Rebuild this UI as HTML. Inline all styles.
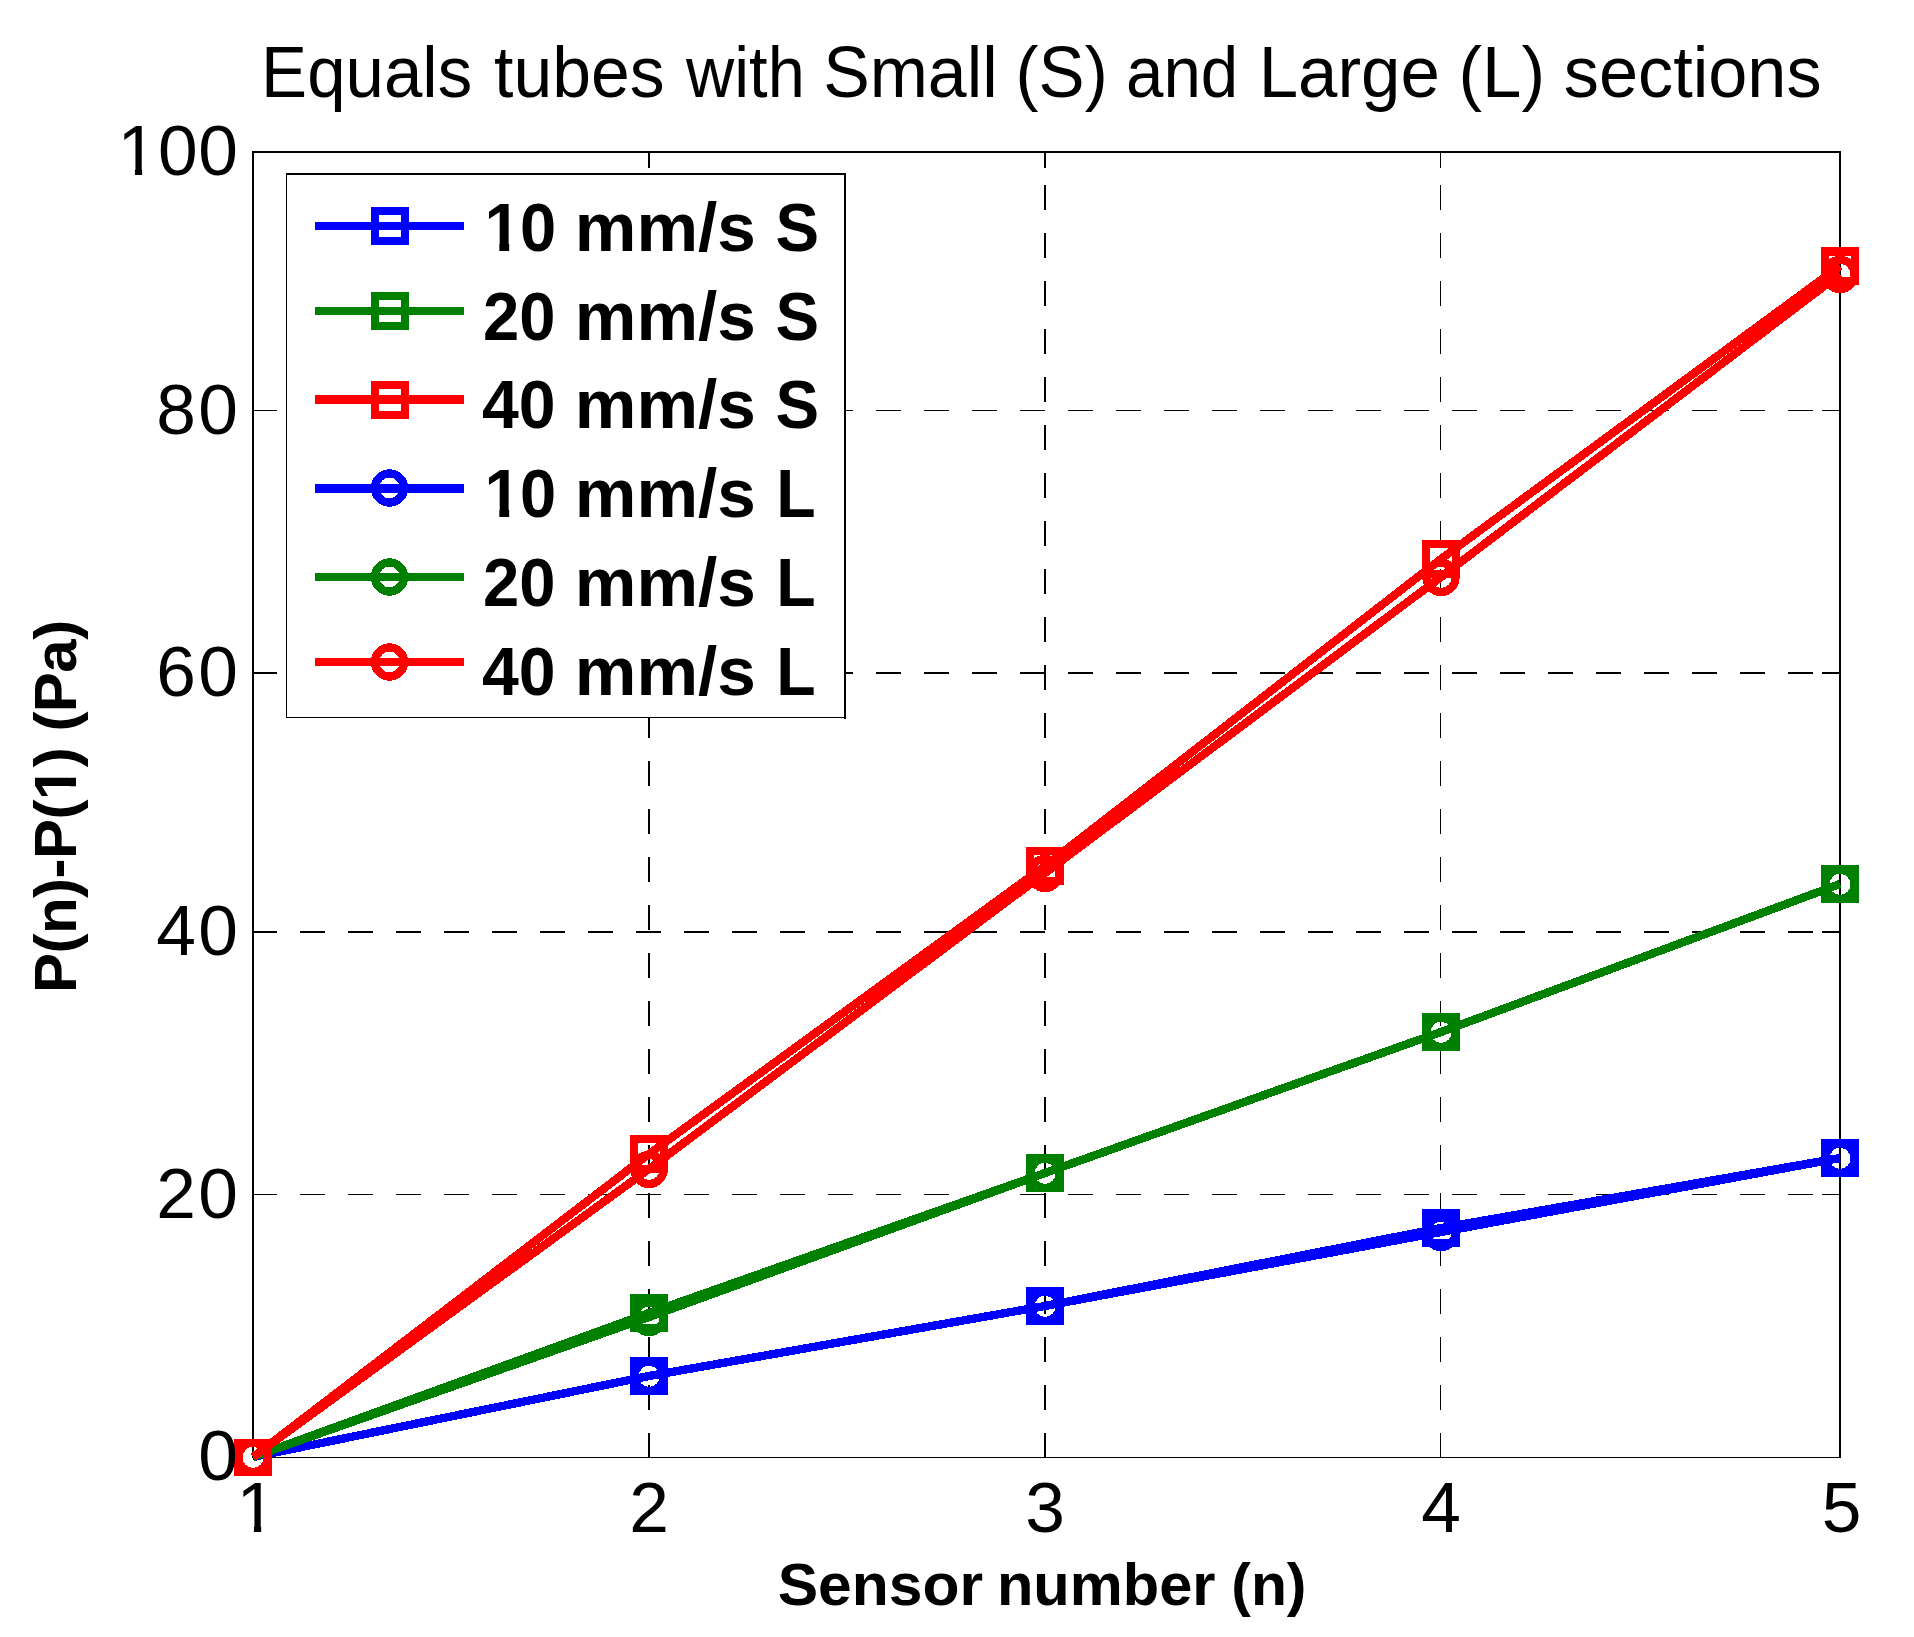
<!DOCTYPE html>
<html lang="en"><head><meta charset="utf-8"><title>Equals tubes with Small (S) and Large (L) sections</title>
<style>html,body{margin:0;padding:0;background:#fff}body{width:1914px;height:1637px;overflow:hidden}svg{display:block}
text{font-family:"Liberation Sans",Arial,Helvetica,sans-serif;fill:#000}.b{font-weight:bold}</style></head><body>
<svg width="1914" height="1637" viewBox="0 0 1914 1637">
<rect width="1914" height="1637" fill="#fff"/>
<g shape-rendering="crispEdges">
<g fill="#000">
<rect x="648" y="1433" width="2" height="25"/>
<rect x="648" y="1385" width="2" height="25"/>
<rect x="648" y="1337" width="2" height="25"/>
<rect x="648" y="1289" width="2" height="25"/>
<rect x="648" y="1241" width="2" height="25"/>
<rect x="648" y="1193" width="2" height="25"/>
<rect x="648" y="1145" width="2" height="25"/>
<rect x="648" y="1097" width="2" height="25"/>
<rect x="648" y="1049" width="2" height="25"/>
<rect x="648" y="1001" width="2" height="25"/>
<rect x="648" y="953" width="2" height="25"/>
<rect x="648" y="905" width="2" height="25"/>
<rect x="648" y="857" width="2" height="25"/>
<rect x="648" y="809" width="2" height="25"/>
<rect x="648" y="761" width="2" height="25"/>
<rect x="648" y="713" width="2" height="25"/>
<rect x="648" y="665" width="2" height="25"/>
<rect x="648" y="617" width="2" height="25"/>
<rect x="648" y="569" width="2" height="25"/>
<rect x="648" y="521" width="2" height="25"/>
<rect x="648" y="473" width="2" height="25"/>
<rect x="648" y="425" width="2" height="25"/>
<rect x="648" y="377" width="2" height="25"/>
<rect x="648" y="329" width="2" height="25"/>
<rect x="648" y="281" width="2" height="25"/>
<rect x="648" y="233" width="2" height="25"/>
<rect x="648" y="185" width="2" height="25"/>
<rect x="648" y="152" width="2" height="10"/>
<rect x="1044" y="1433" width="2" height="25"/>
<rect x="1044" y="1385" width="2" height="25"/>
<rect x="1044" y="1337" width="2" height="25"/>
<rect x="1044" y="1289" width="2" height="25"/>
<rect x="1044" y="1241" width="2" height="25"/>
<rect x="1044" y="1193" width="2" height="25"/>
<rect x="1044" y="1145" width="2" height="25"/>
<rect x="1044" y="1097" width="2" height="25"/>
<rect x="1044" y="1049" width="2" height="25"/>
<rect x="1044" y="1001" width="2" height="25"/>
<rect x="1044" y="953" width="2" height="25"/>
<rect x="1044" y="905" width="2" height="25"/>
<rect x="1044" y="857" width="2" height="25"/>
<rect x="1044" y="809" width="2" height="25"/>
<rect x="1044" y="761" width="2" height="25"/>
<rect x="1044" y="713" width="2" height="25"/>
<rect x="1044" y="665" width="2" height="25"/>
<rect x="1044" y="617" width="2" height="25"/>
<rect x="1044" y="569" width="2" height="25"/>
<rect x="1044" y="521" width="2" height="25"/>
<rect x="1044" y="473" width="2" height="25"/>
<rect x="1044" y="425" width="2" height="25"/>
<rect x="1044" y="377" width="2" height="25"/>
<rect x="1044" y="329" width="2" height="25"/>
<rect x="1044" y="281" width="2" height="25"/>
<rect x="1044" y="233" width="2" height="25"/>
<rect x="1044" y="185" width="2" height="25"/>
<rect x="1044" y="152" width="2" height="10"/>
<rect x="1440" y="1433" width="1" height="25"/>
<rect x="1440" y="1385" width="1" height="25"/>
<rect x="1440" y="1337" width="1" height="25"/>
<rect x="1440" y="1289" width="1" height="25"/>
<rect x="1440" y="1241" width="1" height="25"/>
<rect x="1440" y="1193" width="1" height="25"/>
<rect x="1440" y="1145" width="1" height="25"/>
<rect x="1440" y="1097" width="1" height="25"/>
<rect x="1440" y="1049" width="1" height="25"/>
<rect x="1440" y="1001" width="1" height="25"/>
<rect x="1440" y="953" width="1" height="25"/>
<rect x="1440" y="905" width="1" height="25"/>
<rect x="1440" y="857" width="1" height="25"/>
<rect x="1440" y="809" width="1" height="25"/>
<rect x="1440" y="761" width="1" height="25"/>
<rect x="1440" y="713" width="1" height="25"/>
<rect x="1440" y="665" width="1" height="25"/>
<rect x="1440" y="617" width="1" height="25"/>
<rect x="1440" y="569" width="1" height="25"/>
<rect x="1440" y="521" width="1" height="25"/>
<rect x="1440" y="473" width="1" height="25"/>
<rect x="1440" y="425" width="1" height="25"/>
<rect x="1440" y="377" width="1" height="25"/>
<rect x="1440" y="329" width="1" height="25"/>
<rect x="1440" y="281" width="1" height="25"/>
<rect x="1440" y="233" width="1" height="25"/>
<rect x="1440" y="185" width="1" height="25"/>
<rect x="1440" y="152" width="1" height="10"/>
<rect x="252" y="1194" width="25" height="1"/>
<rect x="300" y="1194" width="25" height="1"/>
<rect x="348" y="1194" width="25" height="1"/>
<rect x="396" y="1194" width="25" height="1"/>
<rect x="444" y="1194" width="25" height="1"/>
<rect x="492" y="1194" width="25" height="1"/>
<rect x="540" y="1194" width="25" height="1"/>
<rect x="588" y="1194" width="25" height="1"/>
<rect x="636" y="1194" width="25" height="1"/>
<rect x="684" y="1194" width="25" height="1"/>
<rect x="732" y="1194" width="25" height="1"/>
<rect x="780" y="1194" width="25" height="1"/>
<rect x="828" y="1194" width="25" height="1"/>
<rect x="876" y="1194" width="25" height="1"/>
<rect x="924" y="1194" width="25" height="1"/>
<rect x="972" y="1194" width="25" height="1"/>
<rect x="1020" y="1194" width="25" height="1"/>
<rect x="1068" y="1194" width="25" height="1"/>
<rect x="1116" y="1194" width="25" height="1"/>
<rect x="1164" y="1194" width="25" height="1"/>
<rect x="1212" y="1194" width="25" height="1"/>
<rect x="1260" y="1194" width="25" height="1"/>
<rect x="1308" y="1194" width="25" height="1"/>
<rect x="1356" y="1194" width="25" height="1"/>
<rect x="1404" y="1194" width="25" height="1"/>
<rect x="1452" y="1194" width="25" height="1"/>
<rect x="1500" y="1194" width="25" height="1"/>
<rect x="1548" y="1194" width="25" height="1"/>
<rect x="1596" y="1194" width="25" height="1"/>
<rect x="1644" y="1194" width="25" height="1"/>
<rect x="1692" y="1194" width="25" height="1"/>
<rect x="1740" y="1194" width="25" height="1"/>
<rect x="1788" y="1194" width="25" height="1"/>
<rect x="1836" y="1194" width="3" height="1"/>
<rect x="252" y="931" width="25" height="2"/>
<rect x="300" y="931" width="25" height="2"/>
<rect x="348" y="931" width="25" height="2"/>
<rect x="396" y="931" width="25" height="2"/>
<rect x="444" y="931" width="25" height="2"/>
<rect x="492" y="931" width="25" height="2"/>
<rect x="540" y="931" width="25" height="2"/>
<rect x="588" y="931" width="25" height="2"/>
<rect x="636" y="931" width="25" height="2"/>
<rect x="684" y="931" width="25" height="2"/>
<rect x="732" y="931" width="25" height="2"/>
<rect x="780" y="931" width="25" height="2"/>
<rect x="828" y="931" width="25" height="2"/>
<rect x="876" y="931" width="25" height="2"/>
<rect x="924" y="931" width="25" height="2"/>
<rect x="972" y="931" width="25" height="2"/>
<rect x="1020" y="931" width="25" height="2"/>
<rect x="1068" y="931" width="25" height="2"/>
<rect x="1116" y="931" width="25" height="2"/>
<rect x="1164" y="931" width="25" height="2"/>
<rect x="1212" y="931" width="25" height="2"/>
<rect x="1260" y="931" width="25" height="2"/>
<rect x="1308" y="931" width="25" height="2"/>
<rect x="1356" y="931" width="25" height="2"/>
<rect x="1404" y="931" width="25" height="2"/>
<rect x="1452" y="931" width="25" height="2"/>
<rect x="1500" y="931" width="25" height="2"/>
<rect x="1548" y="931" width="25" height="2"/>
<rect x="1596" y="931" width="25" height="2"/>
<rect x="1644" y="931" width="25" height="2"/>
<rect x="1692" y="931" width="25" height="2"/>
<rect x="1740" y="931" width="25" height="2"/>
<rect x="1788" y="931" width="25" height="2"/>
<rect x="1836" y="931" width="3" height="2"/>
<rect x="252" y="672" width="25" height="2"/>
<rect x="300" y="672" width="25" height="2"/>
<rect x="348" y="672" width="25" height="2"/>
<rect x="396" y="672" width="25" height="2"/>
<rect x="444" y="672" width="25" height="2"/>
<rect x="492" y="672" width="25" height="2"/>
<rect x="540" y="672" width="25" height="2"/>
<rect x="588" y="672" width="25" height="2"/>
<rect x="636" y="672" width="25" height="2"/>
<rect x="684" y="672" width="25" height="2"/>
<rect x="732" y="672" width="25" height="2"/>
<rect x="780" y="672" width="25" height="2"/>
<rect x="828" y="672" width="25" height="2"/>
<rect x="876" y="672" width="25" height="2"/>
<rect x="924" y="672" width="25" height="2"/>
<rect x="972" y="672" width="25" height="2"/>
<rect x="1020" y="672" width="25" height="2"/>
<rect x="1068" y="672" width="25" height="2"/>
<rect x="1116" y="672" width="25" height="2"/>
<rect x="1164" y="672" width="25" height="2"/>
<rect x="1212" y="672" width="25" height="2"/>
<rect x="1260" y="672" width="25" height="2"/>
<rect x="1308" y="672" width="25" height="2"/>
<rect x="1356" y="672" width="25" height="2"/>
<rect x="1404" y="672" width="25" height="2"/>
<rect x="1452" y="672" width="25" height="2"/>
<rect x="1500" y="672" width="25" height="2"/>
<rect x="1548" y="672" width="25" height="2"/>
<rect x="1596" y="672" width="25" height="2"/>
<rect x="1644" y="672" width="25" height="2"/>
<rect x="1692" y="672" width="25" height="2"/>
<rect x="1740" y="672" width="25" height="2"/>
<rect x="1788" y="672" width="25" height="2"/>
<rect x="1836" y="672" width="3" height="2"/>
<rect x="252" y="410" width="25" height="1"/>
<rect x="300" y="410" width="25" height="1"/>
<rect x="348" y="410" width="25" height="1"/>
<rect x="396" y="410" width="25" height="1"/>
<rect x="444" y="410" width="25" height="1"/>
<rect x="492" y="410" width="25" height="1"/>
<rect x="540" y="410" width="25" height="1"/>
<rect x="588" y="410" width="25" height="1"/>
<rect x="636" y="410" width="25" height="1"/>
<rect x="684" y="410" width="25" height="1"/>
<rect x="732" y="410" width="25" height="1"/>
<rect x="780" y="410" width="25" height="1"/>
<rect x="828" y="410" width="25" height="1"/>
<rect x="876" y="410" width="25" height="1"/>
<rect x="924" y="410" width="25" height="1"/>
<rect x="972" y="410" width="25" height="1"/>
<rect x="1020" y="410" width="25" height="1"/>
<rect x="1068" y="410" width="25" height="1"/>
<rect x="1116" y="410" width="25" height="1"/>
<rect x="1164" y="410" width="25" height="1"/>
<rect x="1212" y="410" width="25" height="1"/>
<rect x="1260" y="410" width="25" height="1"/>
<rect x="1308" y="410" width="25" height="1"/>
<rect x="1356" y="410" width="25" height="1"/>
<rect x="1404" y="410" width="25" height="1"/>
<rect x="1452" y="410" width="25" height="1"/>
<rect x="1500" y="410" width="25" height="1"/>
<rect x="1548" y="410" width="25" height="1"/>
<rect x="1596" y="410" width="25" height="1"/>
<rect x="1644" y="410" width="25" height="1"/>
<rect x="1692" y="410" width="25" height="1"/>
<rect x="1740" y="410" width="25" height="1"/>
<rect x="1788" y="410" width="25" height="1"/>
<rect x="1836" y="410" width="3" height="1"/>
</g>
<g fill="#000">
<rect x="252" y="151" width="1589" height="2"/>
<rect x="252" y="1457" width="1589" height="1"/>
<rect x="252" y="151" width="2" height="1307"/>
<rect x="1839" y="151" width="2" height="1307"/>
<rect x="648" y="152" width="2" height="16"/>
<rect x="648" y="1441" width="2" height="16"/>
<rect x="1044" y="152" width="2" height="16"/>
<rect x="1044" y="1441" width="2" height="16"/>
<rect x="1440" y="152" width="1" height="16"/>
<rect x="1440" y="1441" width="1" height="16"/>
<rect x="253" y="1194" width="17" height="1"/>
<rect x="1822" y="1194" width="17" height="1"/>
<rect x="253" y="931" width="17" height="2"/>
<rect x="1822" y="931" width="17" height="2"/>
<rect x="253" y="672" width="17" height="2"/>
<rect x="1822" y="672" width="17" height="2"/>
<rect x="253" y="410" width="17" height="1"/>
<rect x="1822" y="410" width="17" height="1"/>
</g>
<polyline points="253,1457 649,1376 1045,1306 1441,1228 1840,1158" fill="none" stroke="#0000ff" stroke-width="8.33" stroke-linejoin="round"/>
<polyline points="253,1457 649,1313 1045,1173 1441,1032 1840,884" fill="none" stroke="#008000" stroke-width="8.33" stroke-linejoin="round"/>
<polyline points="253,1457 649,1154 1045,866 1441,559 1840,266" fill="none" stroke="#ff0000" stroke-width="8.33" stroke-linejoin="round"/>
<polyline points="253,1457 649,1376 1045,1306 1441,1232 1840,1158" fill="none" stroke="#0000ff" stroke-width="8.33" stroke-linejoin="round"/>
<polyline points="253,1457 649,1317 1045,1173 1441,1032 1840,884" fill="none" stroke="#008000" stroke-width="8.33" stroke-linejoin="round"/>
<polyline points="253,1457 649,1169 1045,873 1441,577 1840,274" fill="none" stroke="#ff0000" stroke-width="8.33" stroke-linejoin="round"/>
<rect x="238" y="1443" width="30" height="29" fill="none" stroke="#0000ff" stroke-width="8"/>
<rect x="634" y="1361" width="30" height="30" fill="none" stroke="#0000ff" stroke-width="8"/>
<rect x="1030" y="1291" width="30" height="30" fill="none" stroke="#0000ff" stroke-width="8"/>
<rect x="1426" y="1213" width="30" height="30" fill="none" stroke="#0000ff" stroke-width="8"/>
<rect x="1825" y="1143" width="30" height="30" fill="none" stroke="#0000ff" stroke-width="8"/>
<rect x="238" y="1443" width="30" height="29" fill="none" stroke="#008000" stroke-width="8"/>
<rect x="634" y="1298" width="30" height="30" fill="none" stroke="#008000" stroke-width="8"/>
<rect x="1030" y="1158" width="30" height="30" fill="none" stroke="#008000" stroke-width="8"/>
<rect x="1426" y="1017" width="30" height="30" fill="none" stroke="#008000" stroke-width="8"/>
<rect x="1825" y="869" width="30" height="30" fill="none" stroke="#008000" stroke-width="8"/>
<rect x="238" y="1443" width="30" height="29" fill="none" stroke="#ff0000" stroke-width="8"/>
<rect x="634" y="1139" width="30" height="30" fill="none" stroke="#ff0000" stroke-width="8"/>
<rect x="1030" y="851" width="30" height="30" fill="none" stroke="#ff0000" stroke-width="8"/>
<rect x="1426" y="544" width="30" height="30" fill="none" stroke="#ff0000" stroke-width="8"/>
<rect x="1825" y="251" width="30" height="30" fill="none" stroke="#ff0000" stroke-width="8"/>
<circle cx="253" cy="1457.4" r="14.6" fill="none" stroke="#0000ff" stroke-width="8.2"/>
<circle cx="649" cy="1376.4" r="14.6" fill="none" stroke="#0000ff" stroke-width="8.2"/>
<circle cx="1045" cy="1306.4" r="14.6" fill="none" stroke="#0000ff" stroke-width="8.2"/>
<circle cx="1441" cy="1232.4" r="14.6" fill="none" stroke="#0000ff" stroke-width="8.2"/>
<circle cx="1840" cy="1158.4" r="14.6" fill="none" stroke="#0000ff" stroke-width="8.2"/>
<circle cx="253" cy="1457.4" r="14.6" fill="none" stroke="#008000" stroke-width="8.2"/>
<circle cx="649" cy="1317.4" r="14.6" fill="none" stroke="#008000" stroke-width="8.2"/>
<circle cx="1045" cy="1173.4" r="14.6" fill="none" stroke="#008000" stroke-width="8.2"/>
<circle cx="1441" cy="1032.4" r="14.6" fill="none" stroke="#008000" stroke-width="8.2"/>
<circle cx="1840" cy="884.4" r="14.6" fill="none" stroke="#008000" stroke-width="8.2"/>
<circle cx="253" cy="1457.4" r="14.6" fill="none" stroke="#ff0000" stroke-width="8.2"/>
<circle cx="649" cy="1169.4" r="14.6" fill="none" stroke="#ff0000" stroke-width="8.2"/>
<circle cx="1045" cy="873.4" r="14.6" fill="none" stroke="#ff0000" stroke-width="8.2"/>
<circle cx="1441" cy="577.4" r="14.6" fill="none" stroke="#ff0000" stroke-width="8.2"/>
<circle cx="1840" cy="274.4" r="14.6" fill="none" stroke="#ff0000" stroke-width="8.2"/>
<rect x="1829" y="255" width="22" height="1" fill="#ff0000"/>
<rect x="286" y="173" width="560" height="545" fill="#fff"/>
<g fill="#000"><rect x="286" y="173" width="560" height="2"/><rect x="286" y="717" width="560" height="1"/><rect x="286" y="173" width="1" height="545"/><rect x="844" y="173" width="2" height="546"/></g>
<rect x="315" y="222" width="149" height="8" fill="#0000ff"/>
<rect x="375" y="211" width="30" height="30" fill="none" stroke="#0000ff" stroke-width="8"/>
<rect x="315" y="307" width="149" height="8" fill="#008000"/>
<rect x="375" y="296" width="30" height="30" fill="none" stroke="#008000" stroke-width="8"/>
<rect x="315" y="395" width="149" height="9" fill="#ff0000"/>
<rect x="375" y="385" width="30" height="30" fill="none" stroke="#ff0000" stroke-width="8"/>
<rect x="315" y="484" width="149" height="9" fill="#0000ff"/>
<circle cx="389.5" cy="488" r="14.5" fill="none" stroke="#0000ff" stroke-width="8.4"/>
<rect x="315" y="573" width="149" height="8" fill="#008000"/>
<circle cx="389.5" cy="577" r="14.5" fill="none" stroke="#008000" stroke-width="8.4"/>
<rect x="315" y="658" width="149" height="8" fill="#ff0000"/>
<circle cx="389.5" cy="662" r="14.5" fill="none" stroke="#ff0000" stroke-width="8.4"/>
</g>
<text id="title" y="97" font-size="71.4"><tspan x="261.1" textLength="211.1" lengthAdjust="spacingAndGlyphs">Equals</tspan> <tspan x="494.1" textLength="170.6" lengthAdjust="spacingAndGlyphs">tubes</tspan> <tspan x="686.1" textLength="118.7" lengthAdjust="spacingAndGlyphs">with</tspan> <tspan x="823.2" textLength="174.5" lengthAdjust="spacingAndGlyphs">Small</tspan> <tspan x="1015.6" textLength="92.1" lengthAdjust="spacingAndGlyphs">(S)</tspan> <tspan x="1126.0" textLength="112.3" lengthAdjust="spacingAndGlyphs">and</tspan> <tspan x="1258.7" textLength="181.1" lengthAdjust="spacingAndGlyphs">Large</tspan> <tspan x="1458.4" textLength="86.6" lengthAdjust="spacingAndGlyphs">(L)</tspan> <tspan x="1563.8" textLength="257.8" lengthAdjust="spacingAndGlyphs">sections</tspan></text>
<text class="b" id="leg1" y="340" font-size="68.5"><tspan x="483.0" textLength="72.5" lengthAdjust="spacingAndGlyphs">20</tspan> <tspan x="574.8" textLength="181.1" lengthAdjust="spacingAndGlyphs">mm/s</tspan> <tspan x="775.4" textLength="43.6" lengthAdjust="spacingAndGlyphs">S</tspan></text>
<text class="b" id="leg2" y="428" font-size="68.5"><tspan x="481.9" textLength="73.6" lengthAdjust="spacingAndGlyphs">40</tspan> <tspan x="574.8" textLength="181.1" lengthAdjust="spacingAndGlyphs">mm/s</tspan> <tspan x="775.4" textLength="43.6" lengthAdjust="spacingAndGlyphs">S</tspan></text>
<text class="b" id="leg4" y="606" font-size="68.5"><tspan x="483.0" textLength="72.5" lengthAdjust="spacingAndGlyphs">20</tspan> <tspan x="574.8" textLength="181.1" lengthAdjust="spacingAndGlyphs">mm/s</tspan> <tspan x="776.3" textLength="39.4" lengthAdjust="spacingAndGlyphs">L</tspan></text>
<text class="b" id="leg5" y="695" font-size="68.5"><tspan x="481.9" textLength="73.6" lengthAdjust="spacingAndGlyphs">40</tspan> <tspan x="574.8" textLength="181.1" lengthAdjust="spacingAndGlyphs">mm/s</tspan> <tspan x="776.3" textLength="39.4" lengthAdjust="spacingAndGlyphs">L</tspan></text>
<text x="238" y="1479.8" font-size="71.3" text-anchor="end" letter-spacing="0">0</text>
<text x="240.4" y="1217.6" font-size="71.3" text-anchor="end" letter-spacing="2.4">20</text>
<text x="240.4" y="955.1" font-size="71.3" text-anchor="end" letter-spacing="2.4">40</text>
<text x="240.4" y="696.1" font-size="71.3" text-anchor="end" letter-spacing="2.4">60</text>
<text x="240.4" y="433.6" font-size="71.3" text-anchor="end" letter-spacing="2.4">80</text>
<text x="649" y="1532" font-size="71.3" text-anchor="middle">2</text>
<text x="1045" y="1532" font-size="71.3" text-anchor="middle">3</text>
<text x="1441" y="1532" font-size="71.3" text-anchor="middle">4</text>
<text x="1841.5" y="1532" font-size="71.3" text-anchor="middle">5</text>
<clipPath id="nofoot"><path clip-rule="evenodd" d="M0 0H1914V1637H0Z M487.20 243.00H499.34V252.00H487.20Z M509.17 243.00H520.48V252.00H509.17Z M487.20 509.00H499.34V518.00H487.20Z M509.17 509.00H520.48V518.00H509.17Z M121.37 169.00H134.92V177.00H121.37Z M142.12 169.00H155.11V177.00H142.12Z M240.40 1526.00H253.95V1533.00H240.40Z M261.15 1526.00H274.15V1533.00H261.15Z"/></clipPath>
<g clip-path="url(#nofoot)"><text class="b" id="leg0" y="251" font-size="68.5"><tspan x="484.6" textLength="36.2" lengthAdjust="spacingAndGlyphs">1</tspan><tspan x="520.1" textLength="36.2" lengthAdjust="spacingAndGlyphs">0</tspan> <tspan x="574.8" textLength="181.1" lengthAdjust="spacingAndGlyphs">mm/s</tspan> <tspan x="775.4" textLength="43.6" lengthAdjust="spacingAndGlyphs">S</tspan></text><text class="b" id="leg3" y="517" font-size="68.5"><tspan x="484.6" textLength="36.2" lengthAdjust="spacingAndGlyphs">1</tspan><tspan x="520.1" textLength="36.2" lengthAdjust="spacingAndGlyphs">0</tspan> <tspan x="574.8" textLength="181.1" lengthAdjust="spacingAndGlyphs">mm/s</tspan> <tspan x="776.3" textLength="39.4" lengthAdjust="spacingAndGlyphs">L</tspan></text><text x="238.8" y="175.1" font-size="71.3" text-anchor="end" letter-spacing="0.8">100</text><text x="256.3" y="1532" font-size="71.3" text-anchor="middle">1</text></g>
<text class="b" id="xlab" y="1605" font-size="60"><tspan x="777.7" textLength="205.4" lengthAdjust="spacingAndGlyphs">Sensor</tspan> <tspan x="996.9" textLength="218.6" lengthAdjust="spacingAndGlyphs">number</tspan> <tspan x="1231.3" textLength="75.2" lengthAdjust="spacingAndGlyphs">(n)</tspan></text>
<clipPath id="nofoot2"><path clip-rule="evenodd" d="M-400 -100H400V100H-400Z M8.6 -7H20.2V2H8.6Z M28.75 -7H39.7V2H28.75Z"/></clipPath>
<text class="b" id="ylab" clip-path="url(#nofoot2)" transform="translate(76,806.4) rotate(-90)" font-size="60" text-anchor="middle" textLength="373.2" lengthAdjust="spacing">P(n)-P(1) (Pa)</text>
</svg></body></html>
